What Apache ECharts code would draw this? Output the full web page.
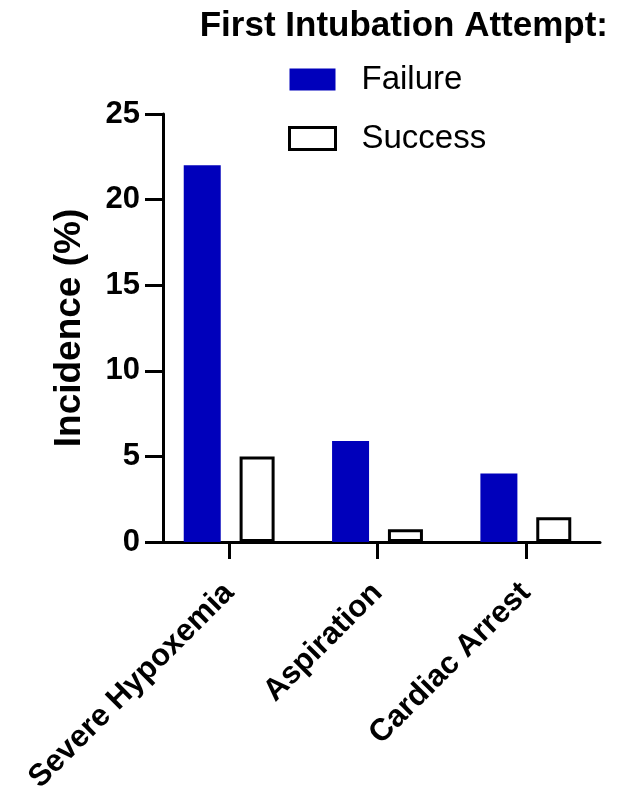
<!DOCTYPE html>
<html>
<head>
<meta charset="utf-8">
<script src="https://cdn.jsdelivr.net/npm/echarts@6/dist/echarts.min.js"></script>
<style>html,body{margin:0;padding:0;background:#fff}#c{width:621px;height:792px}</style>
</head>
<body>
<div id="c"></div>
<script>
const categories = ['Severe Hypoxemia', 'Aspiration', 'Cardiac Arrest'];
const failure = [22, 5.9, 4.0];
const success = [5.0, 0.75, 1.45];
const yTicks = [0, 5, 10, 15, 20, 25];

const chart = echarts.init(document.getElementById('c'), null, {renderer: 'canvas'});
const font = 'Liberation Sans, Arial, sans-serif';
chart.setOption({
  animation: false,
  title: {
    text: 'First Intubation Attempt:',
    right: 8, top: 4,
    textStyle: {fontFamily: font, fontSize: 35, fontWeight: 'bold', color: '#000'}
  },
  legend: {
    orient: 'vertical',
    left: 283, top: 58,
    itemWidth: 46, itemHeight: 22, itemGap: 26,
    textStyle: {fontFamily: font, fontSize: 33, color: '#000', padding: [0, 0, 0, 21]},
    data: [
      {name: 'Failure', icon: 'rect', itemStyle: {color: '#0000bb', borderWidth: 0}},
      {name: 'Success', icon: 'rect', itemStyle: {color: '#fff', borderColor: '#000', borderWidth: 3}}
    ]
  },
  grid: {left: 155, right: 21, top: 114, bottom: 250, containLabel: false, outerBoundsMode: 'none'},
  xAxis: {
    type: 'category',
    data: categories,
    axisLine: {show: true, lineStyle: {color: '#000', width: 3}},
    axisTick: {show: true, interval: 0, alignWithLabel: true, inside: false, length: 17, lineStyle: {color: '#000', width: 3}},
    axisLabel: {rotate: 45, margin: 46, fontFamily: font, fontSize: 31, fontWeight: 'bold', color: '#000', interval: 0}
  },
  yAxis: {
    type: 'value',
    min: yTicks[0], max: yTicks[yTicks.length - 1], interval: 5,
    offset: -8,
    name: 'Incidence (%)',
    nameLocation: 'middle', nameGap: 75,
    nameTextStyle: {fontFamily: font, fontSize: 37, fontWeight: 'bold', color: '#000'},
    axisLine: {show: true, lineStyle: {color: '#000', width: 3}},
    axisTick: {show: true, length: 18, lineStyle: {color: '#000', width: 3}},
    axisLabel: {margin: 23, fontFamily: font, fontSize: 31, fontWeight: 'bold', color: '#000'},
    splitLine: {show: false}
  },
  series: [
    {name: 'Failure', type: 'bar', data: failure, barWidth: 37, barGap: '51%',
     itemStyle: {color: '#0000bb'}},
    {name: 'Success', type: 'bar', data: success, barWidth: 35,
     itemStyle: {color: '#fff', borderColor: '#000', borderWidth: 3}}
  ]
});
</script>
</body>
</html>
